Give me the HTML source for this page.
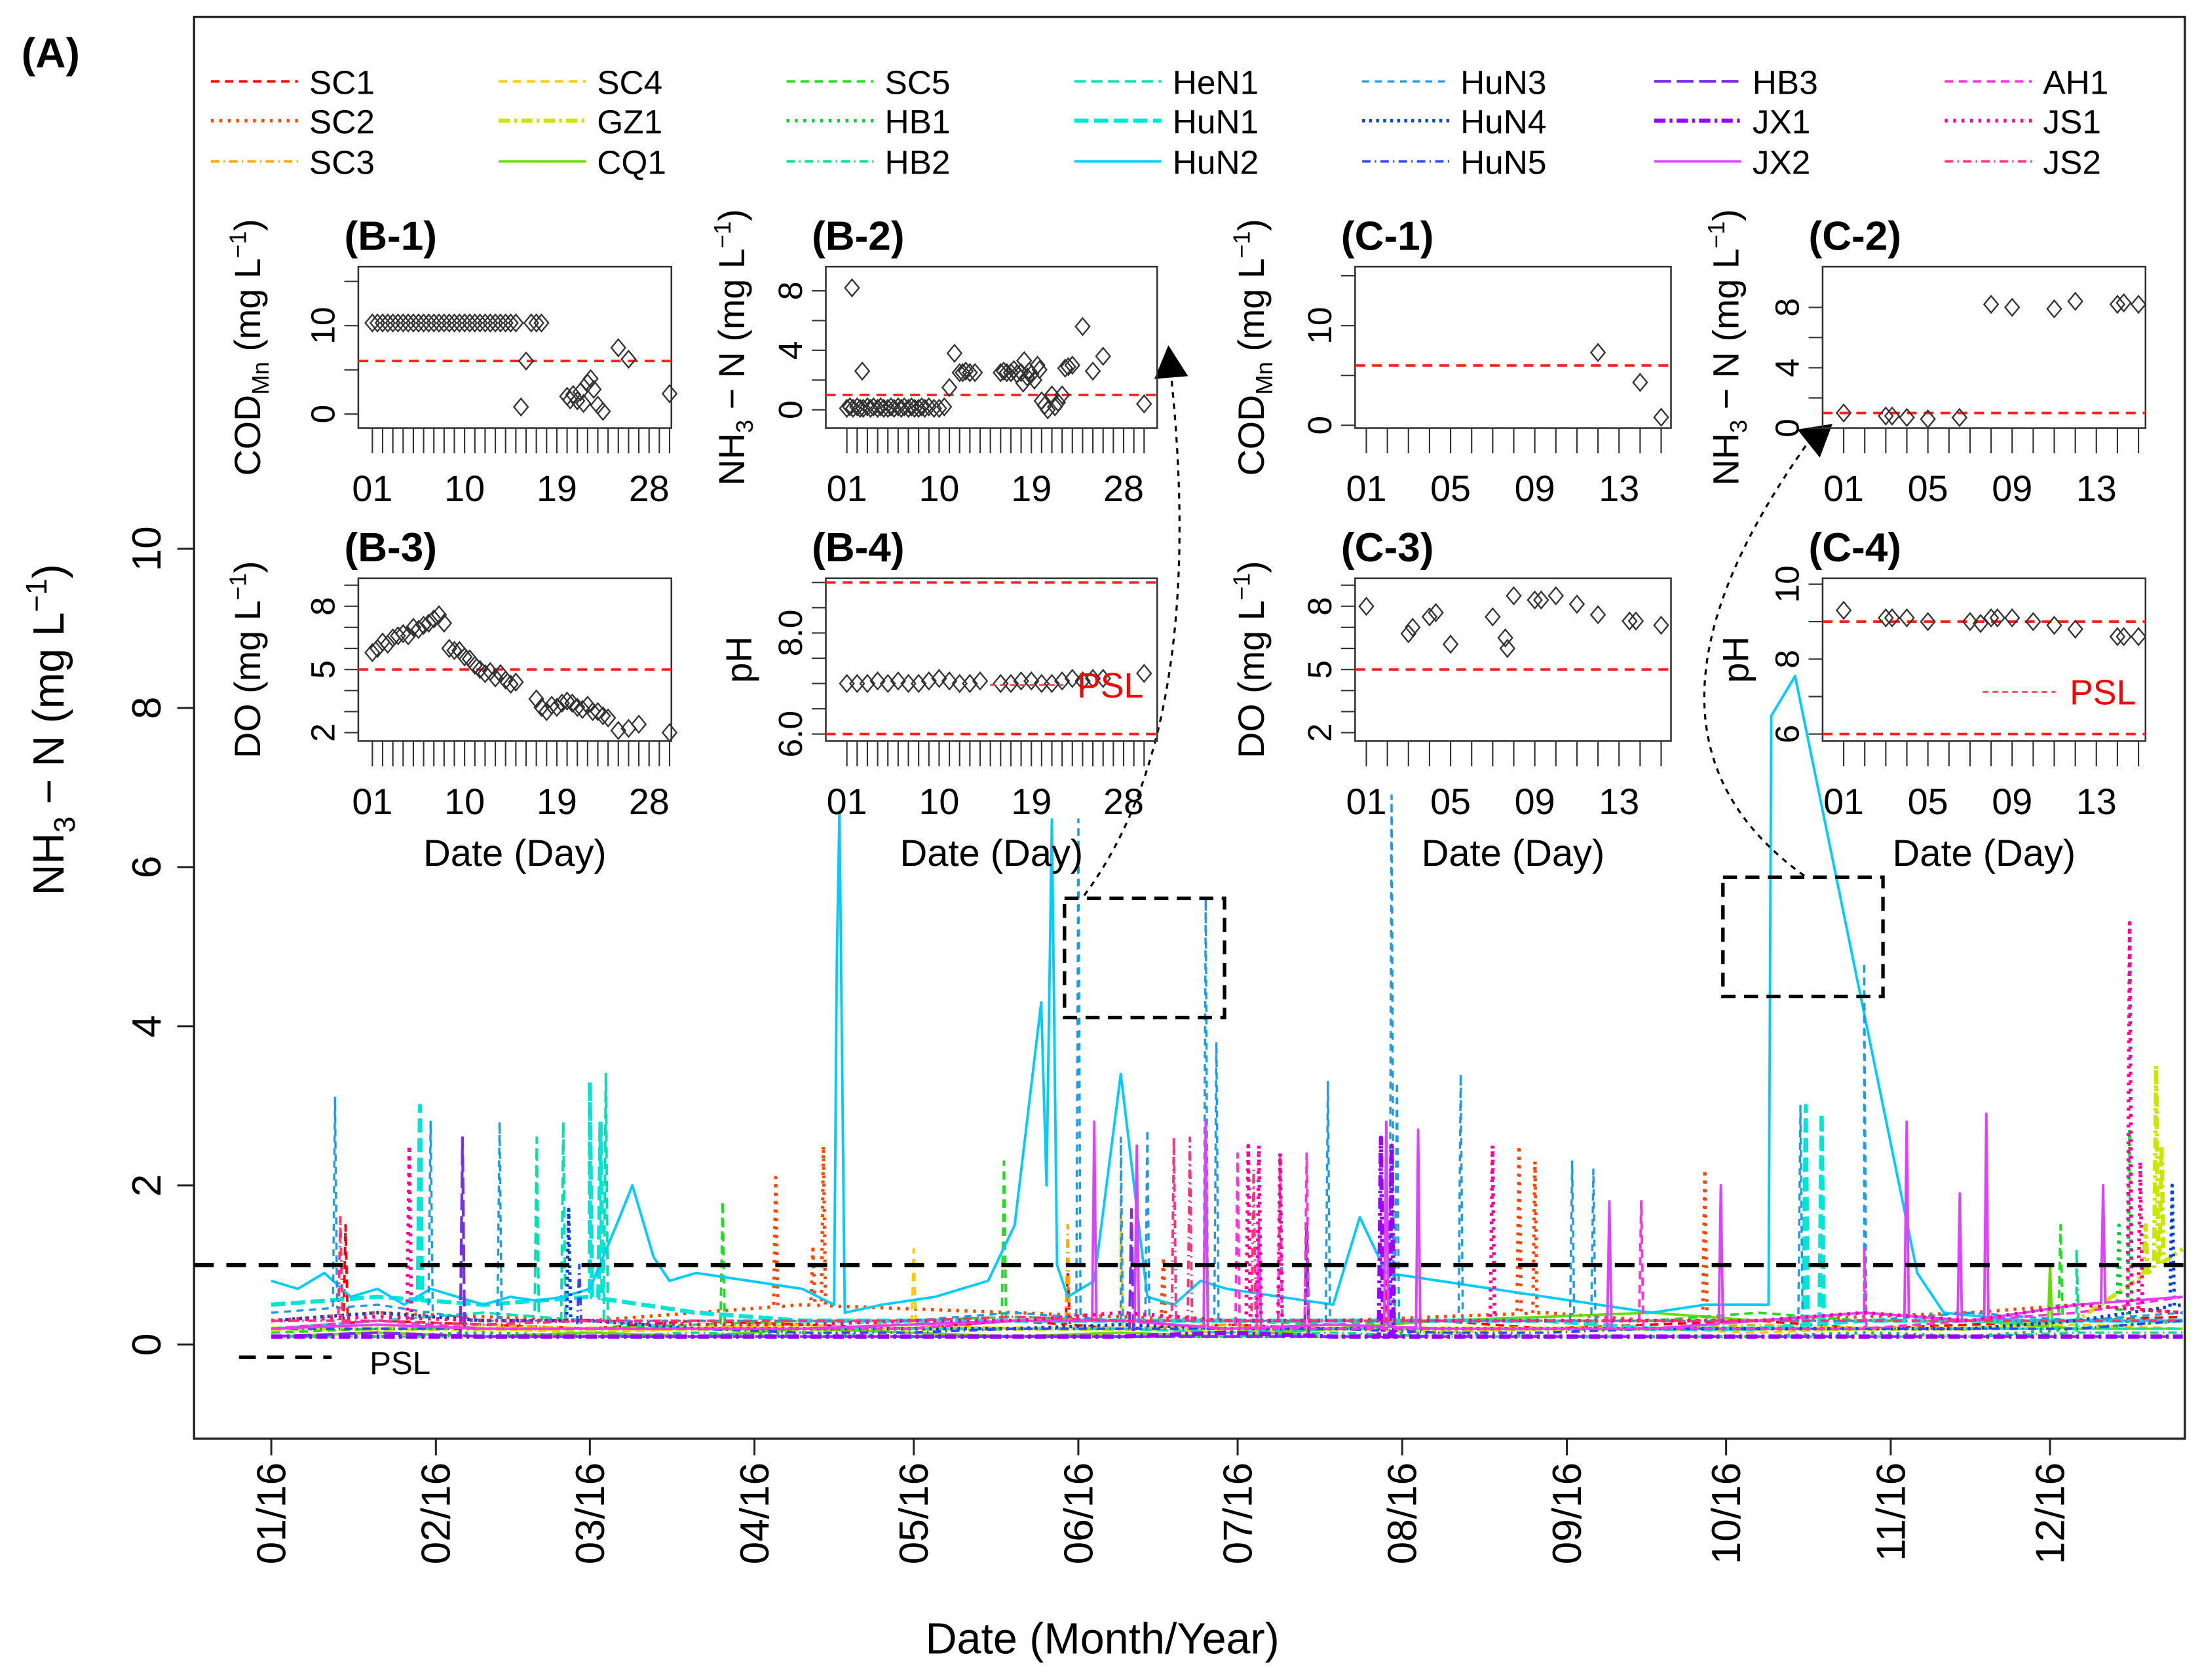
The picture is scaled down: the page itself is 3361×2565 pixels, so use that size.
<!DOCTYPE html>
<html><head><meta charset="utf-8"><style>
html,body{margin:0;padding:0;background:#fff}
svg{display:block}
text{font-family:"Liberation Sans",Arial,sans-serif}
</style></head><body>
<svg id="fig" width="3361" height="2565" viewBox="0 0 1568 1197" xmlns="http://www.w3.org/2000/svg">
<rect width="1568" height="1197" fill="#fff"/>
<g id="main"></g>
<g id="insets"></g>
</svg>
<script>
// ===== Main chart data (NH3-N, mg/L) =====
const monthLabels = ["01/16","02/16","03/16","04/16","05/16","06/16","07/16","08/16","09/16","10/16","11/16","12/16"];
const monthDays = [0,31,60,91,121,152,182,213,244,274,305,335];
const yTicks = [0,2,4,6,8,10];
const psl = 1;
const baseDays = [0,20,40,60,80,100,120,140,160,180,200,220,240,260,280,300,320,340,360];
const seriesNames = ["SC1","SC2","SC3","SC4","GZ1","CQ1","SC5","HB1","HB2","HeN1","HuN1","HuN2","HuN3","HuN4","HuN5","HB3","JX1","JX2","AH1","JS1","JS2"];
const baseSC1 = [.2,.3,.25,.2,.3,.25,.2,.3,.2,.25,.2,.3,.2,.25,.3,.2,.25,.3,.35];
const baseSC2 = [.3,.4,.35,.3,.4,.5,.45,.4,.35,.3,.3,.35,.4,.3,.3,.35,.4,.5,.4];
const baseSC3 = [.2,.2,.25,.2,.2,.3,.25,.2,.2,.25,.2,.2,.2,.2,.25,.2,.2,.3,.3];
const baseSC4 = [.15,.2,.2,.15,.2,.25,.2,.2,.2,.15,.2,.15,.2,.2,.15,.2,.2,.25,.2];
const baseGZ1 = [.2,.2,.2,.2,.2,.2,.2,.2,.2,.2,.2,.2,.2,.2,.2,.2,.2,.3,1.2];
const baseCQ1 = [.1,.15,.1,.15,.1,.2,.15,.1,.15,.1,.2,.3,.35,.4,.3,.4,.3,.2,.2];
const baseSC5 = [.15,.2,.2,.2,.25,.3,.3,.35,.3,.3,.25,.3,.3,.3,.4,.3,.3,.3,.3];
const baseHB1 = [.1,.1,.15,.1,.1,.15,.1,.1,.1,.1,.1,.15,.1,.1,.1,.15,.1,.2,.3];
const baseHB2 = [.1,.1,.1,.1,.15,.1,.1,.1,.1,.1,.15,.1,.1,.1,.1,.1,.1,.15,.15];
const baseHeN1 = [.2,.3,.4,.3,.2,.2,.2,.2,.2,.15,.2,.2,.2,.2,.2,.2,.2,.2,.2];
const baseHuN1 = [.5,.6,.5,.6,.4,.3,.3,.3,.3,.3,.3,.3,.3,.2,.2,.3,.3,.3,.3];
const baseHuN3 = [.4,.5,.3,.3,.3,.3,.3,.4,.3,.3,.3,.3,.3,.3,.3,.3,.4,.3,.4];
const baseHuN4 = [.3,.4,.3,.3,.2,.2,.2,.2,.25,.2,.2,.2,.2,.2,.2,.2,.2,.3,.5];
const baseHuN5 = [.2,.2,.2,.2,.2,.15,.15,.2,.2,.2,.2,.15,.15,.2,.2,.2,.2,.2,.3];
const baseHB3 = [.1,.15,.1,.1,.1,.1,.1,.1,.1,.1,.1,.1,.1,.1,.1,.1,.1,.1,.1];
const baseJX1 = [.1,.1,.1,.1,.1,.1,.1,.1,.1,.15,.1,.1,.1,.1,.1,.1,.1,.1,.1];
const baseJX2 = [.2,.25,.2,.2,.2,.2,.25,.3,.3,.2,.25,.2,.2,.2,.3,.4,.3,.5,.6];
const baseAH1 = [.2,.3,.2,.2,.2,.2,.2,.3,.3,.2,.2,.2,.2,.2,.2,.2,.3,.4,.6];
const baseJS1 = [.3,.35,.3,.3,.25,.25,.3,.3,.4,.3,.3,.3,.3,.3,.3,.4,.3,.5,.4];
const baseJS2 = [.3,.3,.25,.3,.3,.3,.3,.35,.3,.3,.3,.3,.3,.3,.3,.3,.3,.3,.3];
const spikeSC1 = [[14,1.5],[150,0.9],[210,0.8]];
const spikeSC2 = [[95,2.1],[102,1.2],[104,2.5],[168,1.1],[235,2.5],[238,2.3],[270,2.2]];
const spikeSC3 = [[150,1.5]];
const spikeSC4 = [[121,1.2],[160,1.7]];
const spikeGZ1 = [[353,1.5],[355,3.5],[356,2.5]];
const spikeCQ1 = [[335,1.0]];
const spikeSC5 = [[85,1.8],[138,2.3],[337,1.5]];
const spikeHB1 = [[348,1.5],[350,2.7]];
const spikeHB2 = [[340,1.2]];
const spikeHeN1 = [[50,2.6],[55,2.8],[63,3.4]];
const spikeHuN1 = [[28,3.0],[60,3.3],[62,2.8],[289,3.0],[292,2.9]];
const spikeHuN3 = [[12,3.1],[30,2.8],[43,2.8],[152,6.6],[160,2.6],[165,2.7],[176,5.6],[178,3.8],[199,3.3],[211,6.9],[212,3.3],[224,3.4],[245,2.3],[249,2.2],[288,3.0],[300,4.8]];
const spikeHuN4 = [[56,1.7],[358,2.0]];
const spikeHuN5 = [[58,1.0]];
const spikeHB3 = [[36,2.6],[162,1.7],[195,1.5]];
const spikeJX1 = [[209,2.6],[211,2.5]];
const spikeJX2 = [[155,2.8],[163,2.5],[176,2.8],[186,1.5],[210,2.8],[216,2.7],[252,1.8],[273,2.0],[308,2.8],[318,1.9],[323,2.9],[345,2.0]];
const spikeAH1 = [[182,2.4],[190,2.4],[195,2.4],[258,1.8],[300,1.2]];
const spikeJS1 = [[26,2.5],[184,2.5],[186,2.5],[190,2.4],[230,2.5],[350,5.3],[352,2.3]];
const spikeJS2 = [[13,1.6],[170,2.6],[173,2.6],[185,2.2]];
const hun2Days = [0,5,10,15,20,25,30,35,40,45,50,55,60,65,68,72,75,80,90,100,106,106.5,107,108,115,125,135,140,145,146,147,148,150,155,160,165,170,175,180,190,200,205,210,220,230,240,250,260,270,282,282.5,287,310,315,330,345,360];
const hun2Vals = [0.8,0.7,0.9,0.6,0.7,0.5,0.7,0.6,0.5,0.6,0.55,0.6,0.7,1.5,2.0,1.1,0.8,0.9,0.8,0.7,0.5,4.8,6.7,0.4,0.5,0.6,0.8,1.5,4.3,2.0,6.6,1.0,0.6,0.8,3.4,0.6,0.5,0.8,0.7,0.6,0.5,1.6,0.9,0.8,0.7,0.6,0.5,0.4,0.5,0.5,7.9,8.4,0.9,0.4,0.3,0.3,0.3];

// ===== Inset data =====
const b1Days = [1,1.5,2,2.5,3,3.5,4,4.5,5,5.5,6,6.5,7,7.5,8,8.5,9,9.5,10,10.5,11,11.5,12,12.5,13,13.5,14,14.5,15,16.5,17,17.5,15.5,16,20,20.3,20.6,21,21.3,21.6,22,22.3,22.6,23,23.5,25,26,30];
const b1Vals = [10.3,10.3,10.3,10.3,10.3,10.3,10.3,10.3,10.3,10.3,10.3,10.3,10.3,10.3,10.3,10.3,10.3,10.3,10.3,10.3,10.3,10.3,10.3,10.3,10.3,10.3,10.3,10.3,10.3,10.3,10.3,10.3,0.8,6.0,2.0,1.6,2.2,1.5,2.5,1.2,3.5,4.0,2.8,1.0,0.3,7.5,6.2,2.3];
const b2Days = [1,1.3,1.6,2,2.3,2.6,3,3.3,3.6,4,4.3,4.6,5,5.3,5.6,6,6.3,6.6,7,7.3,7.6,8,8.3,8.6,9,9.5,10,10.5,1.5,2.5,11,11.5,12,12.3,12.6,13,13.5,16,16.3,16.6,17,17.3,17.6,18,18.3,18.6,19,19.3,19.6,18.2,18.8,19.8,20,20.3,20.6,21,21.3,21.6,22,22.3,22.6,23,24,25,26,30];
const b2Vals = [0.1,0.2,0.1,0.2,0.1,0.1,0.2,0.1,0.2,0.1,0.2,0.1,0.1,0.2,0.1,0.2,0.1,0.2,0.1,0.2,0.1,0.1,0.2,0.1,0.2,0.1,0.1,0.2,8.2,2.6,1.5,3.8,2.5,2.5,2.6,2.5,2.5,2.5,2.6,2.5,2.5,2.7,2.4,2.5,3.3,2.2,2.4,2.0,3.0,1.8,2.6,2.7,0.6,0.3,0.0,1.0,0.2,0.5,1.0,2.8,2.9,3.0,5.6,2.6,3.6,0.4];
const b3Days = [1,1.5,2,2.5,3,3.5,4,4.5,5,5.5,6,6.5,7,7.5,8,8.5,9,9.5,10,10.5,11,11.5,12,12.5,13,13.5,14,14.5,15,17,17.5,18,18.5,19,19.5,20,20.5,21,21.5,22,22.5,23,23.5,24,25,26,27,30];
const b3Vals = [5.8,6.0,6.3,6.2,6.5,6.6,6.7,6.6,7.0,6.9,7.1,7.2,7.4,7.6,7.2,6.0,5.9,5.9,5.6,5.5,5.2,5.0,4.8,4.9,4.6,4.8,4.5,4.3,4.4,3.6,3.2,3.0,3.3,3.2,3.4,3.5,3.4,3.2,3.1,3.3,3.0,3.0,2.8,2.7,2.1,2.2,2.4,2.0];
const b4Days = [1,2,3,4,5,6,7,8,9,10,11,12,13,14,16,17,18,19,20,21,22,23,24,25,26,30];
const b4Vals = [7.0,7.0,7.0,7.05,7.0,7.05,7.0,7.0,7.05,7.1,7.05,7.0,7.0,7.05,7.0,7.0,7.05,7.05,7.0,7.0,7.05,7.1,7.05,7.1,7.1,7.2];
const c1Days = [12,14,15];
const c1Vals = [7.3,4.3,0.8];
const c2Days = [1,3,3.3,4,5,6.5,8,9,11,12,14,14.3,15];
const c2Vals = [1.0,0.8,0.8,0.7,0.6,0.7,8.2,8.0,7.9,8.4,8.2,8.3,8.2];
const c3Days = [1,3,3.2,4,4.3,5,7,7.6,7.7,8,9,9.3,10,11,12,13.5,13.8,15];
const c3Vals = [8.0,6.7,7.0,7.5,7.7,6.2,7.5,6.5,6.0,8.5,8.3,8.3,8.5,8.1,7.6,7.3,7.3,7.1];
const c4Days = [1,3,3.3,4,5,7,7.5,8,8.3,9,10,11,12,14,14.3,15];
const c4Vals = [9.3,9.1,9.1,9.1,9.0,9.0,8.95,9.1,9.1,9.1,9.0,8.9,8.8,8.6,8.6,8.6];

// ===== helpers =====
const NS="http://www.w3.org/2000/svg";
function mk(parent,tag,attrs,txt){const e=document.createElementNS(NS,tag);for(const k in attrs)e.setAttribute(k,attrs[k]);if(txt!==undefined)e.textContent=txt;parent.appendChild(e);return e;}
const main=document.getElementById('main');
const insets=document.getElementById('insets');
const X0=193, PXD=3.782, Y0=958, PXV=56.7;
const xs=d=>X0+d*PXD;
const ys=v=>Y0-v*PXV;

const styles = {
 SC1:["#ff0000","6,4",1.8],SC2:["#ff4500","2,4",2.4],SC3:["#ffa500","6,3,1,3",1.8],
 SC4:["#ffcc00","6,4",1.8],GZ1:["#c8e600","8,3,2,3",3],CQ1:["#66dd00","",1.8],
 SC5:["#22dd22","6,4",1.8],HB1:["#00cc33","2,4",2.4],HB2:["#00dd88","6,3,1,3",1.8],
 HeN1:["#00e0b0","8,4",1.8],HuN1:["#00e5d5","10,4",3],HuN2:["#00ccff","",1.8],
 HuN3:["#1e9be6","5,4",1.6],HuN4:["#0040dd","2,3",2.4],HuN5:["#3344ff","6,3,1,3",1.8],
 HB3:["#7a2ee6","12,4",2],JX1:["#9900ff","8,3,2,3",3],JX2:["#e040ff","",1.8],
 AH1:["#ff33dd","6,4",1.8],JS1:["#ff0099","2,4",2.6],JS2:["#ff3377","6,3,1,3",1.8]
};
const bases={SC1:baseSC1,SC2:baseSC2,SC3:baseSC3,SC4:baseSC4,GZ1:baseGZ1,CQ1:baseCQ1,SC5:baseSC5,HB1:baseHB1,HB2:baseHB2,HeN1:baseHeN1,HuN1:baseHuN1,HuN3:baseHuN3,HuN4:baseHuN4,HuN5:baseHuN5,HB3:baseHB3,JX1:baseJX1,JX2:baseJX2,AH1:baseAH1,JS1:baseJS1,JS2:baseJS2};
const spikes={SC1:spikeSC1,SC2:spikeSC2,SC3:spikeSC3,SC4:spikeSC4,GZ1:spikeGZ1,CQ1:spikeCQ1,SC5:spikeSC5,HB1:spikeHB1,HB2:spikeHB2,HeN1:spikeHeN1,HuN1:spikeHuN1,HuN3:spikeHuN3,HuN4:spikeHuN4,HuN5:spikeHuN5,HB3:spikeHB3,JX1:spikeJX1,JX2:spikeJX2,AH1:spikeAH1,JS1:spikeJS1,JS2:spikeJS2};
function baseAt(b,d){for(let i=0;i<baseDays.length-1;i++){if(d<=baseDays[i+1]){const t=(d-baseDays[i])/(baseDays[i+1]-baseDays[i]);return b[i]+t*(b[i+1]-b[i]);}}return b[b.length-1];}

// ===== main frame =====
let e;
e=mk(main,'rect',{x:138,y:12,width:1418,height:1013,fill:'none',stroke:'#222','stroke-width':1.6});


e=mk(main,'text',{x:15,y:48,'font-size':30,'font-weight':'bold'},'(A)');



yTicks.forEach(v=>{
 const y=ys(v);
 e=mk(main,'line',{x1:126,x2:138,y1:y,y2:y,stroke:'#222','stroke-width':1.4});
 
 
 e=mk(main,'text',{x:0,y:0,'font-size':29,'text-anchor':'middle',transform:`translate(114,${y}) rotate(-90)`},String(v));
 
 
});
e=mk(main,'text',{x:0,y:0,'font-size':31,'text-anchor':'middle',transform:'translate(45,520) rotate(-90)'});


e.innerHTML='NH<tspan font-size="21" dy="8">3</tspan><tspan dy="-8"> − N (mg L</tspan><tspan font-size="21" dy="-12">−1</tspan><tspan dy="12">)</tspan>';

monthDays.forEach((d,i)=>{
 const x=xs(d);
 e=mk(main,'line',{x1:x,x2:x,y1:1025,y2:1037,stroke:'#222','stroke-width':1.4});
 
 
 e=mk(main,'text',{x:0,y:0,'font-size':29,'text-anchor':'end',transform:`translate(${x+10},1042) rotate(-90)`},monthLabels[i]);
 
 
});
e=mk(main,'text',{x:785,y:1178,'font-size':31,'text-anchor':'middle'},'Date (Month/Year)');



const seriesG=mk(main,'g',{});


seriesNames.forEach(n=>{
 let pts=[];
 if(n==='HuN2'){pts=hun2Days.map((d,i)=>[d,hun2Vals[i]]);}
 else{
  const b=bases[n];
  baseDays.forEach((d,i)=>pts.push([d,b[i]]));
  spikes[n].forEach(([d,v])=>{pts.push([d-0.4,baseAt(b,d-0.4)]);pts.push([d,v]);pts.push([d+0.4,baseAt(b,d+0.4)]);});
  pts.sort((a,c)=>a[0]-c[0]);
 }
 const st=styles[n];
 const p=mk(seriesG,'polyline',{points:pts.map(q=>xs(q[0]).toFixed(1)+','+ys(q[1]).toFixed(1)).join(' '),fill:'none',stroke:st[0],'stroke-width':st[2],'stroke-dasharray':st[1]||'none','stroke-linejoin':'round'});
 
 
});

e=mk(main,'line',{x1:138,x2:1556,y1:ys(psl),y2:ys(psl),stroke:'#000','stroke-width':3,'stroke-dasharray':'14,9'});


e=mk(main,'line',{x1:170,x2:236,y1:967,y2:967,stroke:'#000','stroke-width':2.5,'stroke-dasharray':'12,8'});


e=mk(main,'text',{x:263,y:979,'font-size':23},'PSL');



const legendOrder=[["SC1","SC2","SC3"],["SC4","GZ1","CQ1"],["SC5","HB1","HB2"],["HeN1","HuN1","HuN2"],["HuN3","HuN4","HuN5"],["HB3","JX1","JX2"],["AH1","JS1","JS2"]];
const colX=[150,355,560,765,970,1178,1385], rowY=[58,86,115];
legendOrder.forEach((col,ci)=>col.forEach((n,ri)=>{
 const st=styles[n];
 const g=mk(main,'g',{});
 
 
 mk(g,'line',{x1:colX[ci],x2:colX[ci]+62,y1:rowY[ri],y2:rowY[ri],stroke:st[0],'stroke-width':st[2],'stroke-dasharray':st[1]||'none'});
 mk(g,'text',{x:colX[ci]+70,y:rowY[ri]+9,'font-size':24},n);
}));

e=mk(main,'rect',{x:758,y:640,width:114,height:85,fill:'none',stroke:'#000','stroke-width':2.5,'stroke-dasharray':'10,6'});


e=mk(main,'rect',{x:1227,y:625,width:114,height:85,fill:'none',stroke:'#000','stroke-width':2.5,'stroke-dasharray':'10,6'});


e=mk(main,'path',{d:'M772 638 Q 860 520 834 268',fill:'none',stroke:'#000','stroke-width':1.5,'stroke-dasharray':'4,4'});


e=mk(main,'polygon',{points:'822,270 846,268 832,246',fill:'#000'});


e=mk(main,'path',{d:'M1285 624 Q 1140 520 1290 312',fill:'none',stroke:'#000','stroke-width':1.5,'stroke-dasharray':'4,4'});


e=mk(main,'polygon',{points:'1280,306 1296,326 1305,302',fill:'#000'});



// ===== insets =====
function inset(cfg){
 const g=mk(insets,'g',{});
 
 
 const {x0,x1,y0,y1}=cfg;
 const xm=d=>cfg.dx0+(d-1)*cfg.pxd;
 const ym=v=>cfg.yref-(v-cfg.vref)*cfg.pxv;
 mk(g,'rect',{x:x0,y:y0,width:x1-x0,height:y1-y0,fill:'none',stroke:'#333','stroke-width':1.2});
 mk(g,'text',{x:x0-10,y:y0-12,'font-size':29,'font-weight':'bold'},cfg.title);
 cfg.red.forEach(v=>mk(g,'line',{x1:x0,x2:x1,y1:ym(v),y2:ym(v),stroke:'#ff2020','stroke-width':1.8,'stroke-dasharray':'7,5'}));
 for(let d=1;d<=cfg.nd;d++){const x=xm(d);mk(g,'line',{x1:x,x2:x,y1:y1,y2:y1+18,stroke:'#333','stroke-width':1});}
 cfg.xl.forEach(d=>mk(g,'text',{x:xm(d),y:y1+52,'font-size':26,'text-anchor':'middle'},String(d).padStart(2,'0')));
 if(cfg.showDate) mk(g,'text',{x:(x0+x1)/2,y:y1+89,'font-size':27,'text-anchor':'middle'},'Date (Day)');
 cfg.yt.forEach(v=>mk(g,'line',{x1:x0-10,x2:x0,y1:ym(v),y2:ym(v),stroke:'#333','stroke-width':1}));
 cfg.yl.forEach(v=>mk(g,'text',{x:0,y:0,'font-size':24,'text-anchor':'middle',transform:`translate(${x0-17},${ym(v[0])}) rotate(-90)`},v[1]));
 const t=mk(g,'text',{x:0,y:0,'font-size':26,'text-anchor':'middle',transform:`translate(${cfg.tx},${(y0+y1)/2}) rotate(-90)`});
 t.innerHTML=cfg.ylab;
 cfg.days.forEach((d,i)=>{const x=xm(d),y=ym(cfg.vals[i]);
  mk(g,'path',{d:`M${x-5} ${y} L${x} ${y-6} L${x+5} ${y} L${x} ${y+6} Z`,fill:'none',stroke:'#333','stroke-width':1.1});});
 if(cfg.psl){mk(g,'line',{x1:cfg.psl[0],x2:cfg.psl[0]+52,y1:cfg.psl[1],y2:cfg.psl[1],stroke:'#ff4040','stroke-width':1.2,'stroke-dasharray':'4,3'});
  mk(g,'text',{x:cfg.psl[0]+62,y:cfg.psl[1]+9,'font-size':25,fill:'#ff0000'},'PSL');}
}
const codLab='COD<tspan font-size="17" dy="6">Mn</tspan><tspan dy="-6"> (mg L</tspan><tspan font-size="17" dy="-10">−1</tspan><tspan dy="10">)</tspan>';
const nhLab='NH<tspan font-size="17" dy="6">3</tspan><tspan dy="-6"> − N (mg L</tspan><tspan font-size="17" dy="-10">−1</tspan><tspan dy="10">)</tspan>';
const doLab='DO (mg L<tspan font-size="17" dy="-10">−1</tspan><tspan dy="10">)</tspan>';
const B={pxd:7.3,nd:30,xl:[1,10,19,28]}, C={pxd:15,nd:15,xl:[1,5,9,13]};
inset(Object.assign({name:'inset-b1',title:'(B-1)',x0:255,x1:478,y0:190,y1:305,dx0:265,yref:295,vref:0,pxv:6.3,red:[6],yt:[0,5,10,15],yl:[[0,'0'],[10,'10']],tx:185,ylab:codLab,days:b1Days,vals:b1Vals},B));
inset(Object.assign({name:'inset-b2',title:'(B-2)',x0:588,x1:824,y0:190,y1:305,dx0:603,yref:292,vref:0,pxv:10.6,red:[1],yt:[0,2,4,6,8],yl:[[0,'0'],[4,'4'],[8,'8']],tx:530,ylab:nhLab,days:b2Days,vals:b2Vals},B));
inset(Object.assign({name:'inset-c1',title:'(C-1)',x0:965,x1:1190,y0:190,y1:305,dx0:973,yref:303,vref:0,pxv:7.1,red:[6],yt:[0,5,10,15],yl:[[0,'0'],[10,'10']],tx:900,ylab:codLab,days:c1Days,vals:c1Vals},C));
inset(Object.assign({name:'inset-c2',title:'(C-2)',x0:1298,x1:1528,y0:190,y1:305,dx0:1313,yref:305,vref:0,pxv:10.75,red:[1],yt:[0,2,4,6,8],yl:[[0,'0'],[4,'4'],[8,'8']],tx:1238,ylab:nhLab,days:c2Days,vals:c2Vals},C));
inset(Object.assign({name:'inset-b3',showDate:true,title:'(B-3)',x0:255,x1:478,y0:412,y1:528,dx0:265,yref:522,vref:2,pxv:15,red:[5],yt:[2,3,4,5,6,7,8,9],yl:[[2,'2'],[5,'5'],[8,'8']],tx:185,ylab:doLab,days:b3Days,vals:b3Vals},B));
inset(Object.assign({name:'inset-b4',showDate:true,title:'(B-4)',x0:588,x1:824,y0:412,y1:528,dx0:603,yref:523,vref:6,pxv:36,red:[6,9],yt:[6,6.5,7,7.5,8,8.5,9],yl:[[6,'6.0'],[8,'8.0']],tx:535,ylab:'pH',days:b4Days,vals:b4Vals,psl:[705,488]},B));
inset(Object.assign({name:'inset-c3',showDate:true,title:'(C-3)',x0:965,x1:1190,y0:412,y1:528,dx0:973,yref:522,vref:2,pxv:15,red:[5],yt:[2,3,4,5,6,7,8,9],yl:[[2,'2'],[5,'5'],[8,'8']],tx:900,ylab:doLab,days:c3Days,vals:c3Vals},C));
inset(Object.assign({name:'inset-c4',showDate:true,title:'(C-4)',x0:1298,x1:1528,y0:412,y1:528,dx0:1313,yref:523,vref:6,pxv:26.7,red:[6,9],yt:[6,7,8,9,10],yl:[[6,'6'],[8,'8'],[10,'10']],tx:1245,ylab:'pH',days:c4Days,vals:c4Vals,psl:[1412,493]},C));
</script>
</body></html>
